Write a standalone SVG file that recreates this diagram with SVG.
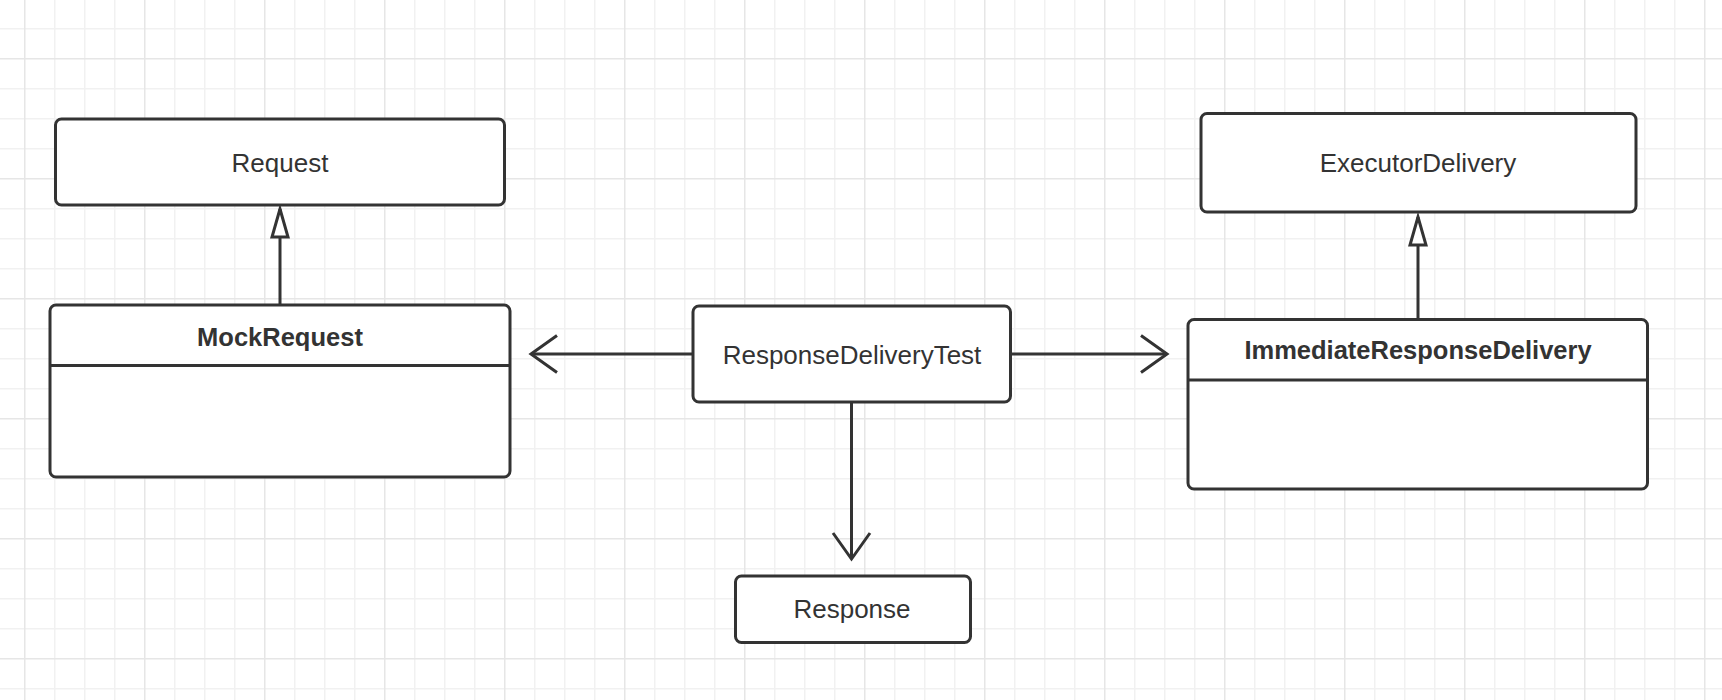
<svg xmlns="http://www.w3.org/2000/svg" width="1722" height="700" viewBox="0 0 1722 700">
<style>
.box{fill:#fff;stroke:#333;stroke-width:3}
.div{stroke:#333;stroke-width:3}
.lbl{font-family:"Liberation Sans",Arial,sans-serif;font-size:26px;fill:#333;text-anchor:middle}
.bold{font-weight:bold;font-size:25.5px}
.edge{stroke:#333;stroke-width:3;fill:none}
</style>
<defs>
<pattern id="grid" patternUnits="userSpaceOnUse" x="24" y="58" width="120" height="120">
<rect x="0" y="0" width="120" height="120" fill="#fff"/>
<rect x="30" y="0" width="1.5" height="120" fill="#f1f1f1"/>
<rect x="60" y="0" width="1.5" height="120" fill="#f1f1f1"/>
<rect x="90" y="0" width="1.5" height="120" fill="#f1f1f1"/>
<rect x="0" y="30" width="120" height="1.5" fill="#f1f1f1"/>
<rect x="0" y="60" width="120" height="1.5" fill="#f1f1f1"/>
<rect x="0" y="90" width="120" height="1.5" fill="#f1f1f1"/>
<rect x="0" y="0" width="1.5" height="120" fill="#e6e6e6"/>
<rect x="0" y="0" width="120" height="1.5" fill="#e6e6e6"/>
</pattern>
<marker id="open" markerUnits="userSpaceOnUse" viewBox="-32 -22 36 44" refX="0" refY="0" markerWidth="36" markerHeight="44" orient="auto" overflow="visible">
<path d="M-26,-18.5 L0,0 L-26,18.5" fill="none" stroke="#333" stroke-width="3"/>
</marker>
<marker id="tri" markerUnits="userSpaceOnUse" viewBox="-32 -12 36 24" refX="0" refY="0" markerWidth="36" markerHeight="24" orient="auto" overflow="visible">
<path d="M0,0 L-28,-8 L-28,8 Z" fill="#fff" stroke="#333" stroke-width="3" stroke-linejoin="miter"/>
</marker>
</defs>
<rect x="0" y="0" width="1722" height="700" fill="url(#grid)"/>

<g id="connectors">
<line class="edge" x1="280" y1="305" x2="280" y2="209" marker-end="url(#tri)"/>
<line class="edge" x1="1418" y1="319" x2="1418" y2="217" marker-end="url(#tri)"/>
<line class="edge" x1="693" y1="354" x2="531" y2="354" marker-end="url(#open)"/>
<line class="edge" x1="1010" y1="354" x2="1167" y2="354" marker-end="url(#open)"/>
<line class="edge" x1="851.5" y1="402" x2="851.5" y2="559" marker-end="url(#open)"/>
</g>

<g id="Request">
<rect class="box" x="55.5" y="119" width="449" height="86" rx="6"/>
<text class="lbl" x="280" y="171.5">Request</text>
</g>

<g id="MockRequest">
<rect class="box" x="50" y="305" width="460" height="172" rx="6"/>
<line class="div" x1="50" y1="365.5" x2="510" y2="365.5"/>
<text class="lbl bold" x="280" y="345.5">MockRequest</text>
</g>

<g id="ResponseDeliveryTest">
<rect class="box" x="693" y="306" width="317.5" height="96" rx="6"/>
<text class="lbl" x="852" y="363.5">ResponseDeliveryTest</text>
</g>

<g id="ExecutorDelivery">
<rect class="box" x="1201" y="113.5" width="435" height="98.5" rx="6"/>
<text class="lbl" x="1418" y="171.5">ExecutorDelivery</text>
</g>

<g id="ImmediateResponseDelivery">
<rect class="box" x="1188" y="319.5" width="459.5" height="169.5" rx="6"/>
<line class="div" x1="1188" y1="380" x2="1647.5" y2="380"/>
<text class="lbl bold" x="1418" y="359">ImmediateResponseDelivery</text>
</g>

<g id="Response">
<rect class="box" x="735.5" y="576" width="235" height="66.5" rx="6"/>
<text class="lbl" x="852" y="618">Response</text>
</g>
</svg>
